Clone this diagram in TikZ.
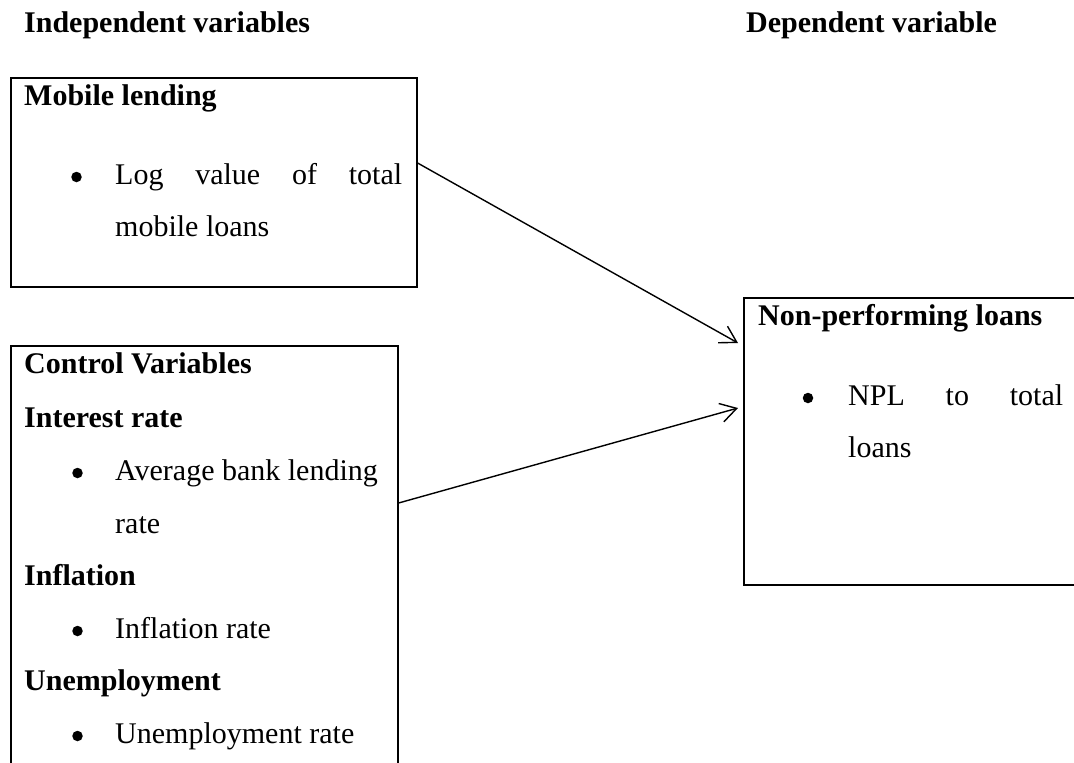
\documentclass[tikz,border=0pt]{standalone}
\usepackage{fontspec}
\setmainfont{Liberation Serif}
\usetikzlibrary{arrows.meta,calc}

\begin{document}
\begin{tikzpicture}[x=1pt,y=-1pt,
every node/.style={inner sep=0pt,anchor=base west,font=\fontsize{30}{53}\selectfont},
box/.style={draw,line width=1.6pt,rectangle,anchor=north west},
head/.style={font=\fontsize{30}{53}\selectfont\bfseries},
bul/.style={circle,fill,minimum size=10.5pt,anchor=center},
conn/.style={line width=1.4pt,-{Straight Barb[length=16pt,width=19pt]}}
]
\clip (0,0) rectangle (1074,763);

\node[head] (indep) at (24,32) {Independent variables};
\node[head] (dep) at (746,32) {Dependent variable};

% mobile lending box
\node[box,minimum width=406pt,minimum height=209pt] (mobile) at (10,77) {};
\node[head] (mobtitle) at (24,105) {Mobile lending};
\node[bul] (mobbul) at (76.5,177) {};
\node (mobline1) at (115,184) {\makebox[287pt][s]{Log value of total}};
\node (mobline2) at (115,236) {mobile loans};

% control variables box
\node[box,minimum width=387pt,minimum height=440pt] (ctrl) at (10,345) {};
\node[head] (ctrltitle) at (24,373) {Control Variables};
\node[head] (inttitle) at (24,427) {Interest rate};
\node[bul] (intbul) at (77.5,473) {};
\node (intline1) at (115,480) {Average bank lending};
\node (intline2) at (115,533) {rate};
\node[head] (inftitle) at (24,585) {Inflation};
\node[bul] (infbul) at (77.5,631) {};
\node (infline) at (115,638) {Inflation rate};
\node[head] (unemptitle) at (24,690) {Unemployment};
\node[bul] (unempbul) at (77.5,736) {};
\node (unempline) at (115,743) {Unemployment rate};

% dependent variable box
\node[box,minimum width=350pt,minimum height=287pt] (npl) at (743,297) {};
\node[head] (npltitle) at (758,325) {Non-performing loans};
\node[bul] (nplbul) at (808,398) {};
\node (nplline1) at (848,405) {\makebox[215pt][s]{NPL to total}};
\node (nplline2) at (848,457) {loans};

\draw[conn] ($(mobile.north east)+(0,86)$) -- ($(npl.north west)+(-5,46)$);
\draw[conn] ($(ctrl.north east)+(0,158)$) -- ($(npl.north west)+(-5,111)$);

\end{tikzpicture}
\end{document}
